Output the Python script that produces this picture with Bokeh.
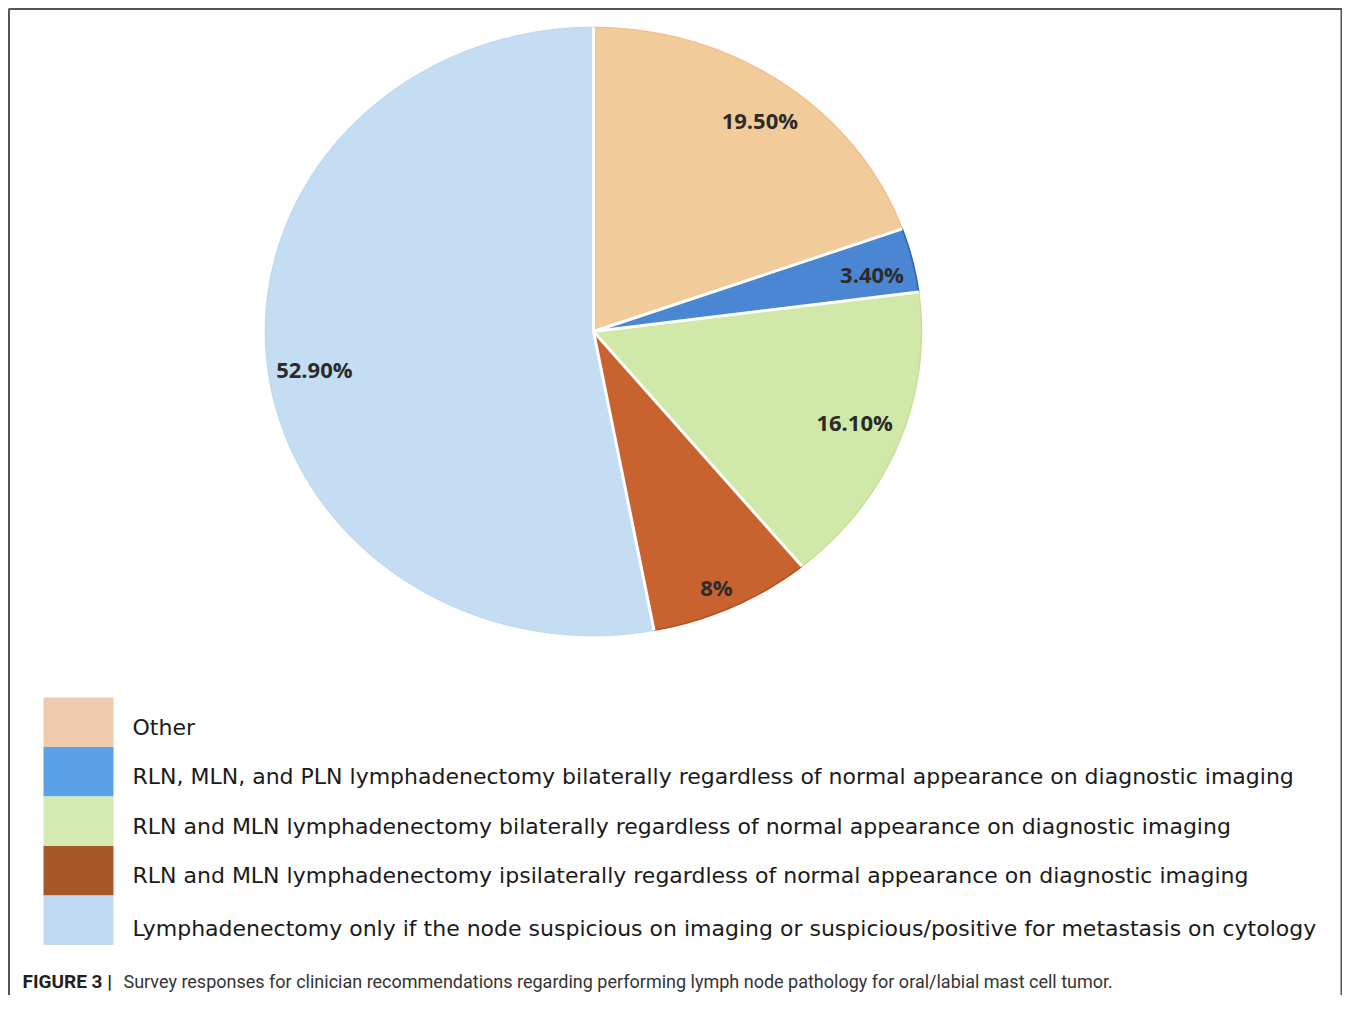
import numpy as np
from bokeh.plotting import figure
from bokeh.models import Range1d
from bokeh.core.properties import value
from bokeh.embed import file_html
from bokeh.resources import INLINE

# ---- data ----
categories = [
    "Other",
    "RLN, MLN, and PLN lymphadenectomy bilaterally regardless of normal appearance on diagnostic imaging",
    "RLN and MLN lymphadenectomy bilaterally regardless of normal appearance on diagnostic imaging",
    "RLN and MLN lymphadenectomy ipsilaterally regardless of normal appearance on diagnostic imaging",
    "Lymphadenectomy only if the node suspicious on imaging or suspicious/positive for metastasis on cytology",
]
shares = [19.5, 3.4, 16.1, 8.0, 52.9]
pct_labels = ["19.50%", "3.40%", "16.10%", "8%", "52.90%"]
caption_bold = "FIGURE 3 |"
caption_text = ("Survey responses for clinician recommendations regarding performing lymph node "
                "pathology for oral/labial mast cell tumor.")

# ---- styles ----
slice_colors = ["#F2CB9A", "#4A86D2", "#D0E8A8", "#C8622E", "#C4DDF3"]
edge_colors = ["#EEC28D", "#2F62B4", "#C6E09B", "#B24E1F", "#BFD9F1"]
legend_colors = ["#EFCAAC", "#5AA2E8", "#D3EAB2", "#A65828", "#C0DAF4"]
label_r = [0.86, 0.87, 0.85, 0.92, 0.86]
label_shift_deg = [1, 1, -1, 1, -3]

W, H = 1342, 995
CX, CY, RX, RY = 593, 331, 328, 304

p = figure(width=W, height=H, x_range=Range1d(0, W), y_range=Range1d(H, 0),
           output_backend="svg", toolbar_location=None, min_border=0,
           x_axis_type=None, y_axis_type=None)
p.grid.visible = False
p.outline_line_color = None
p.background_fill_color = "white"
p.border_fill_color = "white"

frac = np.array(shares) / np.sum(shares)
ends = np.cumsum(frac) * 2 * np.pi
starts = ends - frac * 2 * np.pi

xs, ys = [], []
for s, e in zip(starts, ends):
    n = max(int((e - s) / (2 * np.pi) * 400), 4)
    t = np.linspace(s, e, n)
    xs.append([CX] + list(CX + RX * np.sin(t)))
    ys.append([CY] + list(CY - RY * np.cos(t)))

p.patches(xs, ys, fill_color=slice_colors, line_color=edge_colors, line_width=1.5)

# white separators between slices
p.segment(x0=[CX] * len(starts), y0=[CY] * len(starts),
          x1=list(CX + RX * np.sin(starts)), y1=list(CY - RY * np.cos(starts)),
          line_color="white", line_width=3)

mid = (starts + ends) / 2 + np.radians(label_shift_deg)
lx = CX + RX * np.array(label_r) * np.sin(mid)
ly = CY - RY * np.array(label_r) * np.cos(mid)
p.text(x=list(lx), y=list(ly), text=pct_labels, text_font=value("Open Sans"),
       text_font_style="bold", text_font_size="22px", text_color="#2b2b2b",
       text_align="center", text_baseline="middle")

# legend
n = len(categories)
row_h = 49.5
top0 = 697
tops = [top0 + row_h * i for i in range(n)]
bots = [t + row_h for t in tops]
p.quad(left=[43] * n, right=[113] * n, top=tops, bottom=bots,
       fill_color=legend_colors, line_color=None)
p.text(x=[132] * n, y=[t + row_h / 2 + 5 + (3 if i == n - 1 else 0) for i, t in enumerate(tops)],
       text=categories, text_font=value("DejaVu Sans"), text_font_size="22px",
       text_color="#1a1a1a", text_align="left", text_baseline="middle")

# caption
p.text(x=[22], y=[981], text=[caption_bold], text_font=value("Roboto"),
       text_font_style="bold", text_font_size="19px", text_color="#231F20",
       text_align="left", text_baseline="middle")
p.text(x=[123], y=[981], text=[caption_text], text_font=value("Roboto"),
       text_font_size="18px", text_color="#333333",
       text_align="left", text_baseline="middle")

# frame border (open at bottom)
p.multi_line(xs=[[8.5, 8.5, W - 1, W - 1]], ys=[[H + 20, 8.5, 8.5, H + 20]],
             line_color="#555555", line_width=2)

open("out.html", "w").write(file_html(p, INLINE))
